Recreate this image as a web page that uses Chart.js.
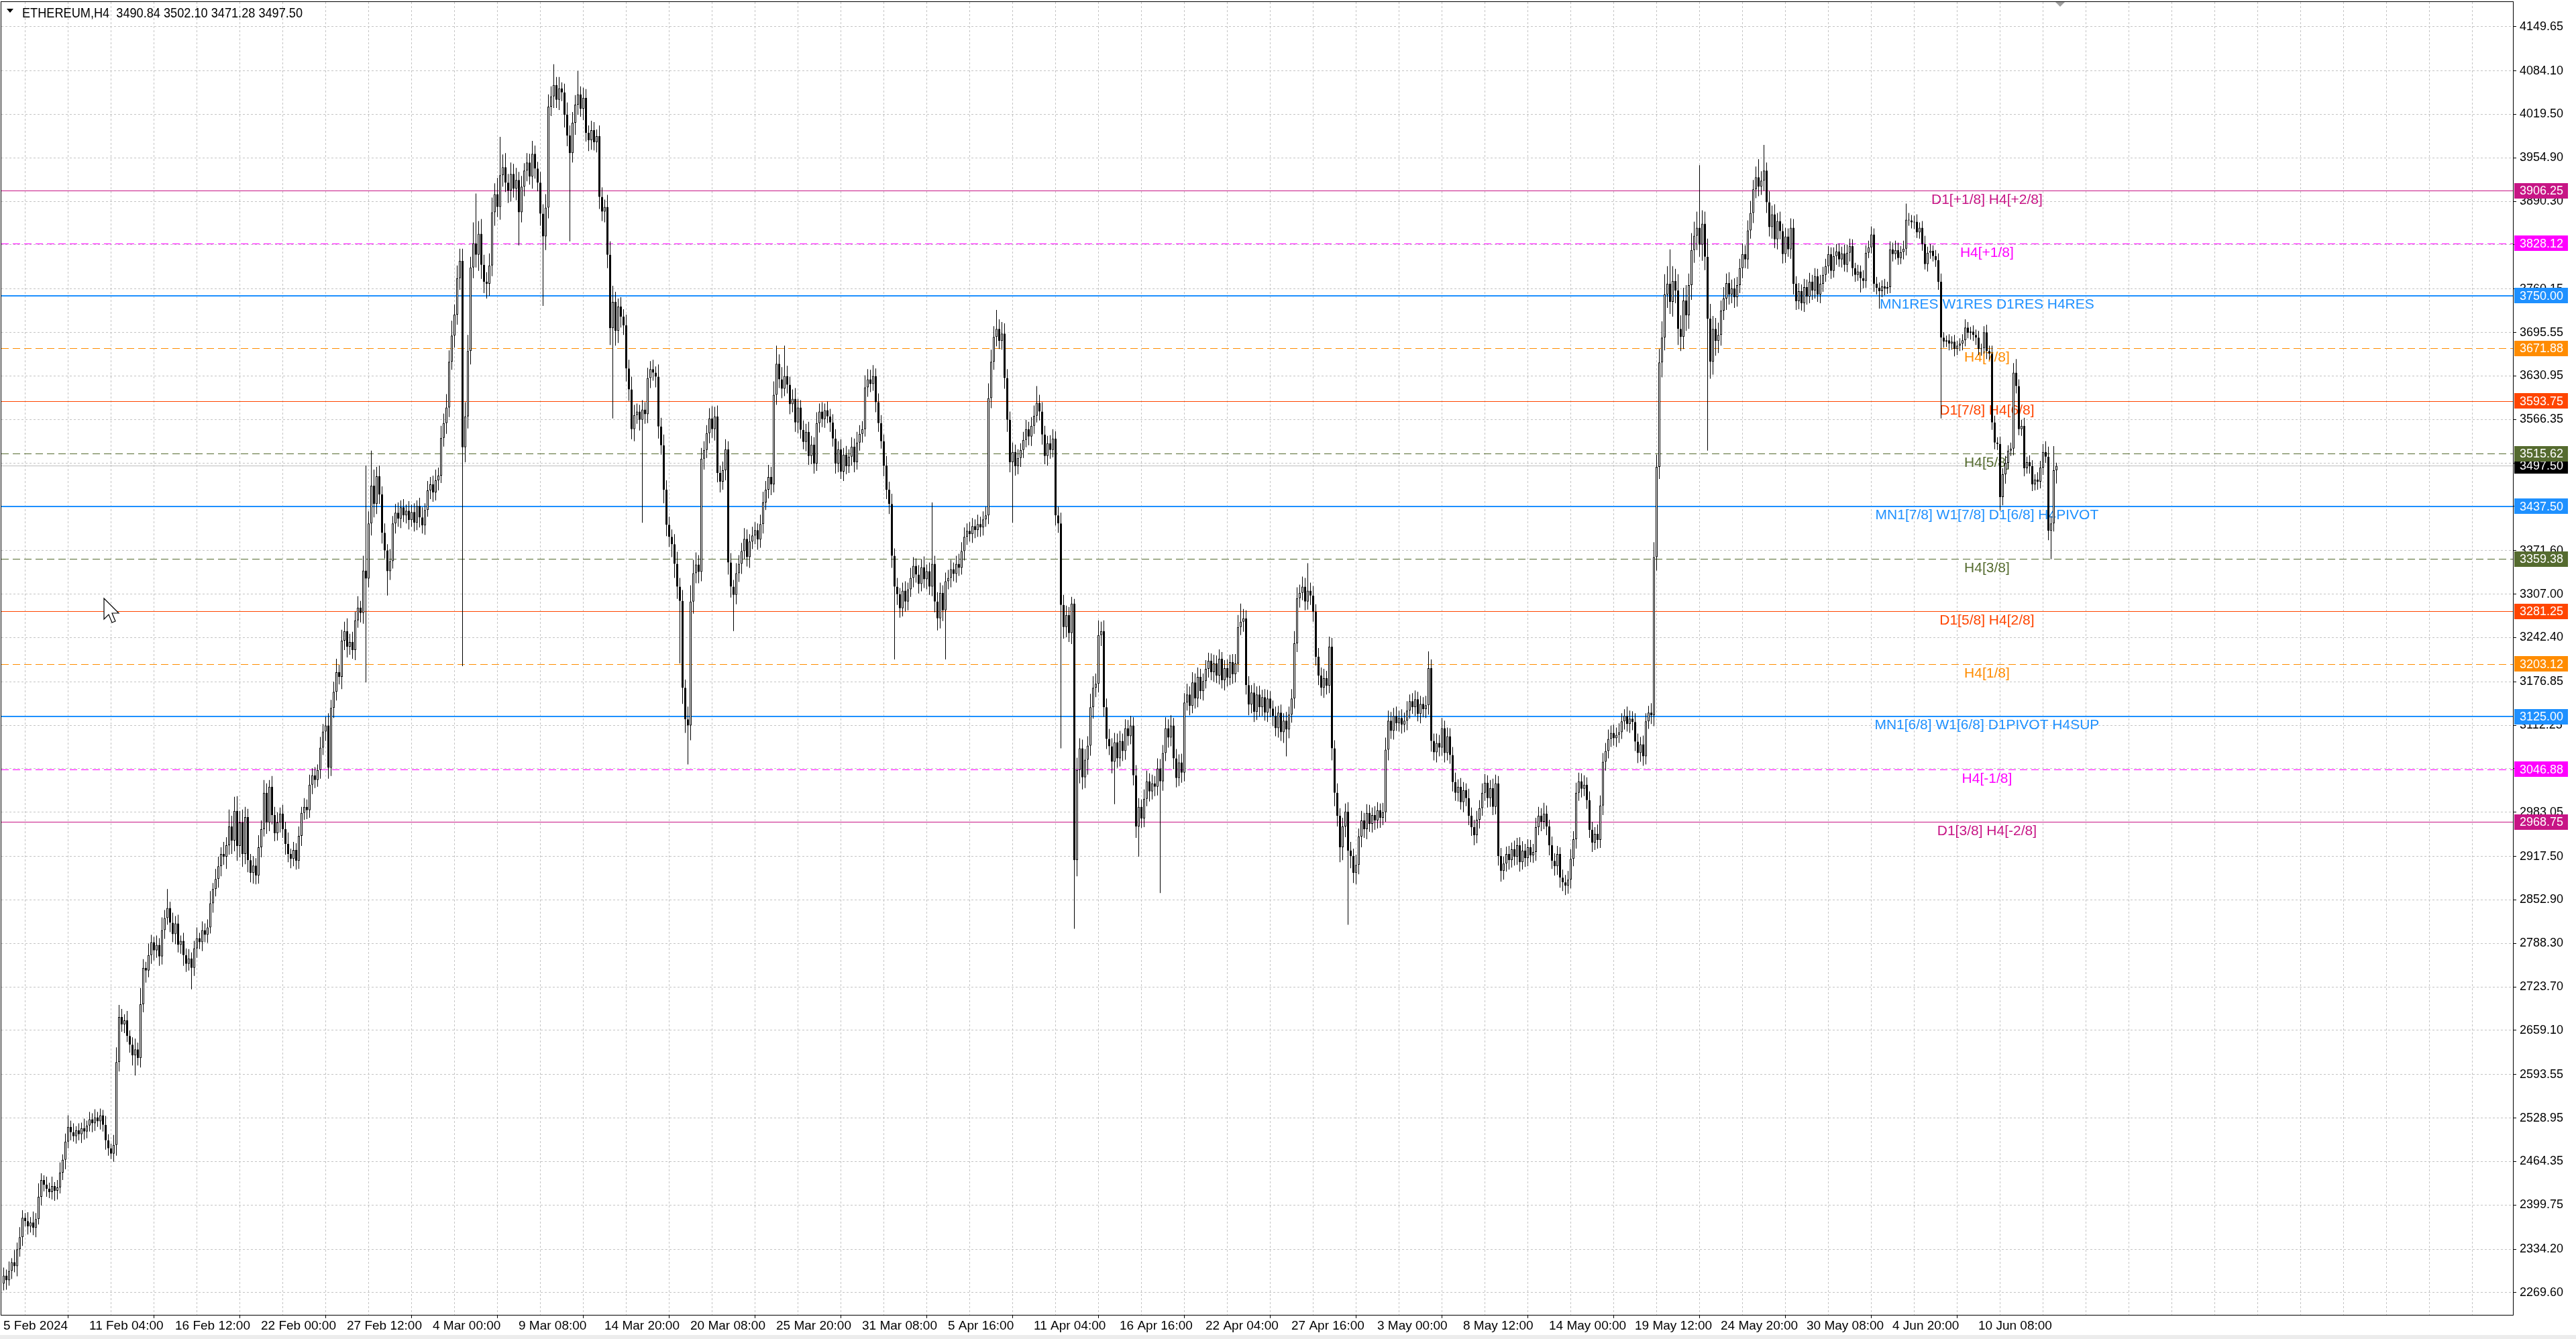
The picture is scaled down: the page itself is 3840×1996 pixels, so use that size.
<!DOCTYPE html>
<html>
<head>
<meta charset="utf-8">
<title>ETHEREUM,H4</title>
<script src="https://cdn.jsdelivr.net/npm/chart.js@4.4.1/dist/chart.umd.min.js"></script>
<style>
    html, body { margin: 0; padding: 0; background: #ffffff; overflow: hidden; }
    #wrap { width: 3840px; height: 1996px; }
</style>
</head>
<body>
<div id="wrap"><canvas id="chart" width="3840" height="1996"></canvas></div>
<script>
// Données du graphique (bougies H4)
const firstOpen = 2283;

// Clôtures, bougies 0-149
const closeFeb = [
    2295, 2288, 2302, 2315, 2309, 2334, 2352, 2381, 2376, 2368,
    2374, 2366, 2379, 2412, 2437, 2430, 2424, 2419, 2428, 2421,
    2426, 2448, 2467, 2494, 2516, 2508, 2502, 2511, 2505, 2514,
    2509, 2518, 2527, 2521, 2530, 2524, 2533, 2519, 2496, 2484,
    2476, 2489, 2612, 2679, 2668, 2674, 2651, 2638, 2622, 2631,
    2618, 2698, 2752, 2748, 2771, 2790, 2778, 2786, 2769, 2808,
    2826, 2841, 2819, 2802, 2818, 2786, 2792, 2771, 2758, 2766,
    2752, 2781, 2796, 2790, 2808, 2801, 2812, 2848, 2869, 2884,
    2903, 2921, 2917, 2934, 2962, 2941, 2985, 2933, 2968, 2921,
    2976, 2912, 2893, 2904, 2889, 2931, 2958, 3012, 2968, 3021,
    2979, 2952, 2968, 2981, 2958, 2936, 2921, 2914, 2927, 2911,
    2948, 2982, 2991, 2986, 3024, 3038, 3031, 3046, 3079, 3103,
    3112, 3049, 3138, 3162, 3191, 3184, 3238, 3252, 3229, 3236,
    3224, 3268, 3287, 3279, 3342, 3330, 3412, 3468, 3441, 3482,
    3455, 3398, 3372, 3341, 3356, 3412, 3428, 3419, 3436, 3424
];
// Clôtures, bougies 150-329
const closeMar = [
    3431, 3417, 3429, 3413, 3438, 3421, 3409, 3432, 3461, 3470,
    3458, 3476, 3483, 3539, 3561, 3584, 3652, 3691, 3722, 3776,
    3802, 3525, 3571, 3668, 3792, 3828, 3811, 3842, 3796, 3771,
    3768, 3795, 3874, 3901, 3882, 3929, 3941, 3918, 3906, 3931,
    3909, 3922, 3874, 3912, 3936, 3948, 3927, 3961, 3939, 3918,
    3872, 3838, 3881, 4031, 4046, 4063, 4041, 4058, 4052, 4019,
    3988, 3962, 4007, 4034, 4049, 4028, 4044, 3992, 3981, 3996,
    3978, 3987, 3897, 3875, 3882, 3811, 3702, 3741, 3698, 3734,
    3719, 3706, 3642, 3611, 3552, 3573, 3578, 3566, 3581, 3574,
    3628, 3641, 3636, 3630, 3556, 3528, 3462, 3410, 3392, 3381,
    3352, 3318, 3297, 3168, 3121, 3112, 3296, 3338, 3351, 3340,
    3508, 3521, 3546, 3568, 3552, 3571, 3487, 3474, 3491, 3522,
    3354, 3318, 3306, 3338, 3352, 3371, 3389, 3362, 3385, 3394,
    3402, 3388, 3411, 3443, 3462, 3481, 3470, 3603, 3649, 3626,
    3612, 3631, 3618, 3589, 3597, 3562, 3584, 3551, 3533, 3548,
    3512, 3529, 3501, 3561, 3578, 3567, 3580, 3571, 3562, 3538,
    3501, 3522, 3489, 3514, 3497, 3511, 3526, 3503, 3532, 3545,
    3552, 3614, 3626, 3619, 3631, 3592, 3561, 3534, 3498, 3462
];
// Clôtures, bougies 330-509
const closeApr = [
    3441, 3364, 3318, 3307, 3286, 3312, 3296, 3314, 3331, 3349,
    3336, 3322, 3347, 3329, 3341, 3318, 3352, 3296, 3271, 3309,
    3283, 3326, 3331, 3344, 3337, 3352, 3346, 3371, 3392, 3401,
    3396, 3408, 3402, 3411, 3406, 3418, 3424, 3598, 3652, 3689,
    3701, 3683, 3694, 3628, 3566, 3503, 3518, 3497, 3509, 3521,
    3536, 3552, 3541, 3557, 3572, 3591, 3578, 3544, 3512, 3531,
    3521, 3538, 3424, 3412, 3291, 3258, 3276, 3249, 3293, 2912,
    3046, 3078, 3035, 3061, 3082, 3139, 3168, 3174, 3246, 3252,
    3139, 3092, 3081, 3058, 3087, 3063, 3089, 3074, 3108, 3096,
    3112, 3038, 2962, 2991, 2974, 3003, 3029, 3014, 3026, 3021,
    3048, 3029, 3071, 3108, 3094, 3112, 3063, 3034, 3057, 3042,
    3146, 3158, 3141, 3176, 3152, 3184, 3163, 3178, 3196, 3208,
    3191, 3204, 3186, 3211, 3179, 3197, 3183, 3206, 3188, 3204,
    3258, 3266, 3271, 3172, 3143, 3161, 3132, 3158, 3139, 3154,
    3131, 3152, 3137, 3126, 3108, 3131, 3102, 3119, 3106, 3128,
    3152, 3234, 3301, 3309, 3318, 3296, 3312, 3305, 3281, 3214,
    3186, 3168, 3182, 3171, 3229, 3078, 3012, 2978, 2931, 2962,
    2984, 2926, 2918, 2893, 2905, 2947, 2971, 2958, 2982, 2966
];
// Clôtures, bougies 510-699
const closeMay = [
    2979, 2971, 2986, 2975, 2983, 3076, 3119, 3104, 3126, 3115,
    3123, 3113, 3119, 3134, 3148, 3139, 3151, 3129, 3144, 3136,
    3142, 3197, 3089, 3072, 3086, 3079, 3108, 3071, 3096, 3068,
    3028, 3012, 3021, 2998, 3016, 3004, 2978, 2961, 2949, 2972,
    2989, 3012, 3027, 3004, 3019, 2991, 3026, 2918, 2896, 2907,
    2921, 2912, 2928, 2917, 2934, 2909, 2926, 2915, 2931, 2919,
    2924, 2961, 2978, 2969, 2981, 2962, 2934, 2911, 2903, 2921,
    2886, 2879, 2874, 2883, 2914, 2943, 3012, 3029, 3018, 3024,
    3001, 2957, 2938, 2951, 2942, 2993, 3058, 3074, 3092, 3101,
    3093, 3098, 3102, 3118, 3126, 3114, 3122, 3117, 3088, 3071,
    3084, 3066, 3118, 3131, 3127, 3362, 3496, 3651, 3688, 3752,
    3768, 3741, 3772, 3758, 3701, 3689, 3743, 3721, 3766, 3818,
    3839, 3851, 3826, 3857, 3808, 3716, 3652, 3701, 3683, 3692,
    3728, 3746, 3769, 3752, 3761, 3748, 3766, 3791, 3812, 3804,
    3847, 3873, 3908, 3926, 3912, 3921, 3936, 3889, 3852, 3871,
    3834, 3861, 3846, 3812, 3838, 3819, 3851, 3768, 3742, 3757,
    3739, 3763, 3749, 3771, 3758, 3779, 3752, 3768, 3781, 3794,
    3812, 3787, 3809, 3816, 3804, 3813, 3796, 3814, 3824, 3791,
    3781, 3786, 3776, 3772, 3814, 3822, 3841, 3768, 3762, 3757
];
// Clôtures, bougies 700-765
const closeJun = [
    3764, 3761, 3763, 3819, 3812, 3818, 3806, 3815, 3820, 3863,
    3862, 3859, 3860, 3844, 3851, 3827, 3797, 3814, 3817, 3809,
    3803, 3771, 3688, 3682, 3684, 3679, 3682, 3671, 3676, 3679,
    3684, 3703, 3695, 3697, 3692, 3688, 3671, 3672, 3696, 3668,
    3664, 3562, 3532, 3530, 3451, 3485, 3502, 3520, 3523, 3636,
    3616, 3552, 3557, 3494, 3503, 3497, 3470, 3477, 3474, 3495,
    3518, 3511, 3401, 3412, 3490.84, 3497.50
];

// Mèches hautes (au-dessus du corps)
const wickUp = [
    12, 9, 14, 6, 18, 10, 15, 11, 7, 13,
    8, 16, 9, 20, 10, 7, 12, 9, 14, 6,
    11, 15, 8, 12, 17, 9, 13, 6, 10, 8,
    14, 7, 11, 9, 12, 8, 10, 8, 13, 9,
    7, 15, 22, 18, 12, 9, 14, 8, 11, 16,
    10, 24, 13, 9, 17, 11, 8, 14, 10, 19,
    12, 28, 9, 15, 11, 13, 8, 12, 10, 14,
    9, 11, 16, 8, 13, 10, 12, 18, 9, 15,
    14, 10, 18, 12, 25, 16, 21, 22, 17, 19,
    15, 12, 9, 14, 11, 18, 13, 19, 14, 10,
    16, 12, 15, 9, 13, 11, 17, 8, 12, 10,
    14, 9, 13, 11, 15, 10, 12, 8, 16, 11,
    13, 18, 12, 15, 20, 11, 16, 14, 19, 12,
    15, 13, 17, 10, 22, 156, 18, 52, 24, 14,
    16, 12, 14, 9, 18, 11, 13, 15, 10, 12,
    9, 14, 11, 13, 8, 12, 15, 10, 14, 11,
    13, 16, 12, 18, 14, 20, 17, 22, 15, 19,
    18, 18, 21, 24, 16, 31, 74, 19, 22, 15,
    14, 18, 22, 16, 24, 57, 19, 21, 13, 17,
    15, 18, 12, 16, 11, 14, 13, 19, 12, 10,
    16, 14, 20, 18, 15, 31, 12, 17, 9, 13,
    18, 15, 16, 14, 35, 12, 15, 13, 11, 14,
    12, 10, 16, 14, 11, 18, 20, 24, 15, 12,
    14, 11, 16, 13, 19, 15, 12, 10, 14, 11,
    15, 12, 14, 9, 18, 13, 16, 14, 12, 11,
    15, 18, 13, 16, 12, 19, 24, 20, 18, 14,
    16, 13, 12, 15, 18, 14, 16, 11, 13, 15,
    12, 14, 10, 15, 13, 12, 16, 14, 11, 13,
    12, 10, 14, 16, 13, 18, 15, 20, 27, 14,
    18, 45, 15, 12, 14, 16, 13, 11, 14, 12,
    15, 13, 11, 16, 12, 14, 10, 13, 11, 12,
    14, 12, 15, 10, 13, 11, 14, 12, 16, 13,
    12, 18, 15, 14, 16, 11, 13, 12, 10, 14,
    12, 15, 11, 13, 9, 12, 14, 10, 15, 13,
    11, 14, 12, 16, 10, 13, 91, 12, 14, 15,
    11, 13, 12, 14, 10, 12, 15, 13, 14, 11,
    13, 12, 10, 14, 11, 12, 13, 22, 18, 16,
    28, 14, 17, 15, 13, 12, 14, 11, 13, 10,
    12, 14, 11, 13, 15, 25, 12, 14, 13, 11,
    12, 14, 11, 13, 16, 15, 14, 12, 10, 7,
    18, 15, 13, 16, 14, 20, 17, 15, 22, 14,
    16, 13, 15, 12, 14, 13, 15, 11, 13, 12,
    14, 12, 15, 13, 11, 14, 16, 12, 13, 11,
    15, 14, 12, 16, 13, 15, 11, 14, 12, 13,
    14, 16, 12, 15, 13, 14, 12, 11, 13, 12,
    11, 13, 12, 14, 10, 12, 13, 11, 12, 14,
    18, 27, 14, 12, 13, 11, 14, 12, 13, 11,
    12, 13, 11, 12, 14, 10, 12, 11, 13, 12,
    14, 18, 16, 12, 15, 13, 41, 12, 14, 11,
    13, 12, 14, 11, 15, 13, 12, 14, 11, 13,
    12, 14, 13, 11, 15, 12, 14, 11, 13, 12,
    11, 13, 12, 10, 14, 18, 15, 13, 12, 14,
    11, 13, 12, 14, 10, 12, 13, 11, 12, 10,
    14, 25, 13, 11, 14, 12, 15, 11, 13, 12,
    12, 14, 11, 13, 12, 10, 14, 12, 11, 13,
    12, 14, 13, 11, 12, 14, 13, 11, 12, 10,
    11, 12, 10, 13, 11, 12, 14, 10, 12, 11,
    12, 14, 13, 11, 16, 12, 10, 13, 11, 12,
    10, 12, 11, 13, 14, 12, 15, 13, 12, 14,
    11, 13, 12, 10, 14, 15, 13, 12, 14, 11,
    12, 11, 13, 12, 10, 14, 12, 11, 13, 12,
    11, 13, 12, 10, 14, 22, 18, 20, 24, 30,
    26, 51, 22, 18, 24, 20, 19, 23, 17, 25,
    21, 24, 93, 20, 18, 27, 22, 19, 16, 18,
    15, 17, 14, 16, 13, 15, 12, 14, 16, 13,
    15, 18, 14, 16, 27, 14, 38, 12, 16, 13,
    15, 12, 14, 11, 13, 12, 14, 13, 11, 12,
    10, 12, 11, 13, 10, 12, 11, 13, 12, 11,
    12, 10, 13, 11, 12, 10, 13, 12, 11, 10,
    8, 10, 9, 12, 11, 10, 12, 9, 10, 8,
    9, 11, 8, 12, 10, 14, 11, 9, 12, 24,
    10, 8, 9, 11, 8, 10, 12, 9, 10, 8,
    9, 10, 12, 8, 7, 9, 8, 10, 7, 8,
    9, 12, 8, 7, 9, 8, 10, 7, 9, 11,
    8, 12, 10, 8, 11, 9, 10, 8, 9, 14,
    20, 10, 9, 12, 8, 10, 9, 8, 11, 10,
    12, 16, 15, 11, 36, 4.6
];

// Mèches basses (sous le corps)
const wickDn = [
    10, 14, 8, 12, 9, 15, 11, 13, 8, 12,
    9, 11, 14, 8, 13, 10, 12, 9, 11, 15,
    13, 9, 11, 14, 10, 12, 8, 11, 9, 13,
    12, 10, 9, 13, 11, 8, 12, 10, 14, 11,
    8, 12, 16, 14, 11, 13, 9, 12, 15, 30,
    11, 14, 12, 18, 10, 13, 15, 11, 14, 12,
    13, 10, 14, 12, 15, 11, 13, 16, 12, 10,
    32, 12, 14, 10, 13, 11, 12, 9, 14, 11,
    13, 15, 12, 18, 14, 20, 16, 22, 17, 19,
    15, 18, 14, 16, 13, 12, 15, 11, 17, 13,
    14, 12, 11, 15, 13, 16, 12, 14, 11, 13,
    12, 15, 10, 13, 11, 14, 12, 10, 13, 11,
    14, 16, 12, 15, 13, 11, 18, 14, 16, 12,
    13, 15, 11, 14, 16, 154, 13, 18, 20, 15,
    14, 16, 12, 36, 13, 11, 15, 12, 14, 10,
    12, 14, 10, 13, 11, 15, 12, 14, 10, 13,
    14, 12, 15, 11, 13, 16, 14, 12, 18, 15,
    17, 325, 22, 18, 20, 16, 19, 24, 21, 17,
    22, 18, 16, 20, 15, 19, 17, 14, 18, 16,
    13, 17, 49, 15, 14, 16, 12, 18, 15, 13,
    18, 103, 20, 16, 14, 17, 12, 15, 13, 19,
    16, 131, 14, 18, 15, 12, 17, 13, 16, 14,
    12, 15, 18, 14, 16, 20, 25, 134, 22, 18,
    16, 14, 19, 17, 15, 18, 13, 16, 153, 14,
    13, 15, 12, 16, 18, 14, 20, 17, 15, 19,
    21, 18, 93, 24, 20, 58, 22, 18, 15, 17,
    14, 16, 12, 15, 13, 17, 14, 16, 12, 15,
    18, 16, 54, 14, 13, 15, 12, 14, 16, 11,
    13, 15, 12, 14, 11, 13, 16, 12, 15, 13,
    14, 11, 13, 15, 12, 14, 16, 13, 11, 14,
    13, 12, 15, 11, 14, 12, 13, 10, 14, 12,
    15, 13, 11, 14, 12, 10, 13, 15, 11, 12,
    13, 11, 14, 12, 10, 15, 13, 11, 16, 14,
    15, 18, 108, 16, 14, 12, 15, 13, 11, 14,
    12, 14, 11, 13, 15, 12, 14, 16, 18, 15,
    16, 73, 12, 14, 11, 13, 12, 10, 14, 12,
    11, 13, 12, 10, 14, 12, 11, 13, 15, 12,
    14, 12, 13, 16, 18, 15, 90, 14, 12, 13,
    12, 11, 13, 14, 12, 10, 13, 15, 12, 14,
    13, 11, 15, 14, 213, 17, 15, 13, 16, 102,
    24, 20, 18, 16, 22, 15, 17, 14, 13, 16,
    14, 15, 13, 17, 63, 14, 12, 15, 13, 14,
    12, 15, 17, 45, 14, 13, 11, 15, 12, 14,
    13, 166, 14, 12, 15, 13, 16, 14, 12, 15,
    13, 12, 14, 11, 15, 13, 12, 14, 11, 13,
    12, 14, 11, 13, 12, 15, 13, 11, 14, 12,
    13, 12, 15, 14, 16, 13, 15, 12, 14, 13,
    12, 14, 13, 15, 12, 14, 13, 16, 40, 13,
    12, 15, 13, 14, 11, 13, 12, 14, 15, 13,
    14, 12, 15, 13, 11, 18, 20, 16, 22, 19,
    16, 110, 18, 15, 17, 14, 16, 13, 15, 12,
    13, 14, 12, 15, 11, 14, 16, 12, 13, 11,
    12, 13, 11, 14, 12, 10, 13, 11, 14, 12,
    13, 14, 16, 12, 15, 13, 12, 14, 11, 13,
    14, 12, 13, 11, 15, 12, 14, 13, 15, 12,
    13, 11, 12, 14, 13, 12, 11, 14, 16, 13,
    12, 14, 11, 13, 12, 14, 11, 13, 12, 10,
    11, 13, 12, 14, 11, 13, 15, 12, 14, 13,
    15, 13, 14, 12, 13, 11, 14, 12, 13, 11,
    13, 12, 14, 11, 13, 12, 14, 13, 11, 12,
    11, 13, 12, 10, 12, 11, 13, 12, 14, 15,
    13, 14, 12, 11, 13, 16, 20, 18, 22, 19,
    20, 18, 22, 19, 24, 21, 18, 23, 20, 22,
    19, 21, 18, 24, 20, 196, 25, 19, 22, 18,
    16, 14, 17, 15, 13, 16, 14, 12, 15, 13,
    14, 12, 15, 13, 14, 12, 15, 16, 14, 17,
    13, 15, 12, 14, 13, 11, 14, 16, 13, 12,
    11, 13, 12, 10, 14, 12, 11, 13, 12, 10,
    11, 12, 10, 13, 11, 12, 10, 11, 13, 12,
    10, 9, 21, 11, 10, 8, 9, 12, 10, 26,
    9, 10, 8, 9, 11, 8, 10, 9, 11, 10,
    8, 9, 10, 8, 9, 10, 8, 11, 9, 8,
    10, 12, 120, 9, 8, 10, 9, 11, 9, 8,
    10, 9, 8, 10, 9, 11, 9, 10, 8, 12,
    9, 11, 10, 9, 20, 12, 14, 9, 8, 10,
    11, 9, 10, 12, 8, 11, 10, 9, 12, 10,
    11, 9, 14, 42, 12, 19.56
];

// Étiquettes de l'axe du temps (une toutes les 32 bougies)
const xLabels = [
    "5 Feb 2024", "11 Feb 04:00", "16 Feb 12:00", "22 Feb 00:00", "27 Feb 12:00",
    "4 Mar 00:00", "9 Mar 08:00", "14 Mar 20:00", "20 Mar 08:00", "25 Mar 20:00",
    "31 Mar 08:00", "5 Apr 16:00", "11 Apr 04:00", "16 Apr 16:00", "22 Apr 04:00",
    "27 Apr 16:00", "3 May 00:00", "8 May 12:00", "14 May 00:00", "19 May 12:00",
    "24 May 20:00", "30 May 08:00", "4 Jun 20:00", "10 Jun 08:00"
];

// Graduations de l'axe des prix
const yTicks = [
    4149.65, 4084.10, 4019.50, 3954.90, 3890.30, 3825.70, 3760.15, 3695.55,
    3630.95, 3566.35, 3501.75, 3437.15, 3371.60, 3307.00, 3242.40, 3176.85,
    3112.25, 3047.65, 2983.05, 2917.50, 2852.90, 2788.30, 2723.70, 2659.10,
    2593.55, 2528.95, 2464.35, 2399.75, 2334.20, 2269.60
];

// Niveaux horizontaux (Murrey / pivots)
const levelPrices = [3906.25, 3828.12, 3750.00, 3671.88, 3593.75, 3515.62, 3437.50,
                     3359.38, 3281.25, 3203.12, 3125.00, 3046.88, 2968.75];
const levelNames = [
    "D1[+1/8] H4[+2/8]", "H4[+1/8]", "MN1RES W1RES D1RES H4RES", "H4[7/8]",
    "D1[7/8] H4[6/8]", "H4[5/8]", "MN1[7/8] W1[7/8] D1[6/8] H4PIVOT", "H4[3/8]",
    "D1[5/8] H4[2/8]", "H4[1/8]", "MN1[6/8] W1[6/8] D1PIVOT H4SUP", "H4[-1/8]",
    "D1[3/8] H4[-2/8]"
];
const lastPrice = 3497.50;
const headerText = "ETHEREUM,H4  3490.84 3502.10 3471.28 3497.50";

// Styles des niveaux
const levelColors = ["#C71585", "#FF00FF", "#1E90FF", "#FF8C00", "#FF4500", "#556B2F", "#1E90FF",
                     "#556B2F", "#FF4500", "#FF8C00", "#1E90FF", "#FF00FF", "#C71585"];
const levelDashed = [false, true, false, true, false, true, false, true, false, true, false, true, false];
const levelWidths = [1, 1, 2, 1, 1, 1, 2, 1, 1, 1, 2, 1, 1];

const AXIS_FONT = '"Liberation Sans", Arial, sans-serif';

// Construction des bougies
const closes = closeFeb.concat(closeMar, closeApr, closeMay, closeJun);
const candles = closes.map((c, i) => {
    const o = i === 0 ? firstOpen : closes[i - 1];
    return { o: o, c: c, h: Math.max(o, c) + wickUp[i], l: Math.min(o, c) - wickDn[i] };
});
const lengthsOk = closes.length === wickUp.length && closes.length === wickDn.length;

const wickData = candles.map((k, i) => ({ x: i, y: [k.l, k.h] }));
const bodyData = candles.map((k, i) => {
    let a = k.o, b = k.c;
    if (Math.abs(a - b) < 1) { a = k.c - 0.6; b = k.c + 0.6; }
    return { x: i, y: [a, b] };
});
const bodyFill = candles.map(k => (k.c >= k.o ? "#ffffff" : "#000000"));

// Texte avec resserrement horizontal optionnel
function squeezedText(ctx, text, x, y, size, sx) {
    ctx.save();
    ctx.font = size + "px " + AXIS_FONT;
    ctx.translate(x, y);
    ctx.scale(sx, 1);
    ctx.fillText(text, 0, 0);
    ctx.restore();
}

// Plugin : niveaux, étiquettes de prix, cadre et en-tête
const levelsPlugin = {
    id: "levels",
    beforeDatasetsDraw(chart) {
        const { ctx, chartArea: a, scales: { x, y } } = chart;
        ctx.save();
        // ligne du prix courant
        const by = Math.round(y.getPixelForValue(lastPrice)) + 0.5;
        ctx.strokeStyle = "#c0c0c0";
        ctx.lineWidth = 1;
        ctx.beginPath();
        ctx.moveTo(a.left, by);
        ctx.lineTo(a.right, by);
        ctx.stroke();

        const labelX = x.getPixelForValue(739.1);
        levelPrices.forEach((p, i) => {
            const w = levelWidths[i];
            const py = Math.round(y.getPixelForValue(p)) + (w % 2 ? 0.5 : 0);
            ctx.strokeStyle = levelColors[i];
            ctx.lineWidth = w;
            ctx.setLineDash(levelDashed[i] ? [11, 6] : []);
            ctx.beginPath();
            ctx.moveTo(a.left, py);
            ctx.lineTo(a.right, py);
            ctx.stroke();
            ctx.setLineDash([]);
            ctx.fillStyle = levelColors[i];
            ctx.font = "21px " + AXIS_FONT;
            ctx.textAlign = "center";
            ctx.textBaseline = "alphabetic";
            ctx.fillText(levelNames[i], labelX, py + 19);
        });
        ctx.restore();
    },
    afterDraw(chart) {
        const { ctx, chartArea: a, scales: { x, y } } = chart;
        ctx.save();

        // cadre du graphique
        ctx.strokeStyle = "#000";
        ctx.lineWidth = 1;
        ctx.strokeRect(a.left - 0.5, a.top - 0.5, a.right - a.left + 1, a.bottom - a.top + 1);

        // étiquettes de l'axe du temps
        ctx.fillStyle = "#000";
        ctx.textAlign = "left";
        ctx.textBaseline = "alphabetic";
        xLabels.forEach((lab, k) => {
            squeezedText(ctx, lab, Math.round(x.getPixelForValue(k * 32)) - 1, a.bottom + 22, 19, 1);
        });

        // étiquettes colorées sur l'axe des prix
        function tag(price, color) {
            const ty = y.getPixelForValue(price);
            ctx.fillStyle = color;
            ctx.fillRect(a.right + 2, Math.round(ty - 11.5), 80, 23);
            ctx.fillStyle = "#ffffff";
            ctx.font = "18px " + AXIS_FONT;
            ctx.textAlign = "left";
            ctx.textBaseline = "middle";
            ctx.fillText(price.toFixed(2), a.right + 10, ty + 1);
        }
        tag(lastPrice, "#000000");
        levelPrices.forEach((p, i) => tag(p, levelColors[i]));

        // marqueur de décalage en haut
        ctx.fillStyle = "#a0a0a0";
        ctx.beginPath();
        ctx.moveTo(3064, a.top);
        ctx.lineTo(3078, a.top);
        ctx.lineTo(3071, a.top + 7);
        ctx.closePath();
        ctx.fill();

        // en-tête du symbole
        ctx.fillStyle = "#000";
        ctx.beginPath();
        ctx.moveTo(10, 13);
        ctx.lineTo(20, 13);
        ctx.lineTo(15, 19);
        ctx.closePath();
        ctx.fill();
        ctx.textAlign = "left";
        ctx.textBaseline = "alphabetic";
        squeezedText(ctx, headerText, 33, 26, 21, 0.865);

        // curseur de la souris
        const cx = 155, cy = 892;
        const pts = [[0, 0], [0, 31], [7, 24], [12, 36], [17, 34], [12, 22], [22, 22]];
        ctx.beginPath();
        pts.forEach((pt, i) => (i ? ctx.lineTo(cx + pt[0], cy + pt[1]) : ctx.moveTo(cx + pt[0], cy + pt[1])));
        ctx.closePath();
        ctx.fillStyle = "#ffffff";
        ctx.fill();
        ctx.strokeStyle = "#000";
        ctx.lineWidth = 1.2;
        ctx.stroke();

        // bande grise du bas
        ctx.fillStyle = "#ececec";
        ctx.fillRect(0, 1990, 3840, 6);

        if (!lengthsOk) {
            ctx.fillStyle = "red";
            ctx.font = "40px sans-serif";
            ctx.fillText("LENGTH MISMATCH " + closes.length + " " + wickUp.length + " " + wickDn.length, 600, 200);
        }
        ctx.restore();
    }
};

const canvas = document.getElementById("chart");
const chartInstance = new Chart(canvas.getContext("2d"), {
    type: "bar",
    data: {
        datasets: [
            {
                label: "wick",
                data: wickData,
                backgroundColor: "#000000",
                borderWidth: 0,
                barThickness: 1,
                inflateAmount: 0,
                grouped: false,
                order: 2
            },
            {
                label: "body",
                data: bodyData,
                backgroundColor: bodyFill,
                borderColor: "#000000",
                borderWidth: 1,
                borderSkipped: false,
                barThickness: 3,
                inflateAmount: 0,
                grouped: false,
                order: 1
            }
        ]
    },
    options: {
        responsive: false,
        animation: false,
        devicePixelRatio: 1,
        layout: { padding: { left: 2, top: 3, right: 0, bottom: 0 } },
        plugins: { legend: { display: false }, tooltip: { enabled: false } },
        scales: {
            x: {
                type: "linear",
                min: -0.875,
                max: 935.125,
                offset: false,
                afterBuildTicks: axis => {
                    const t = [];
                    for (let v = 0; v <= 935; v += 16) t.push({ value: v });
                    axis.ticks = t;
                },
                afterFit: axis => {
                    axis.height = 36;
                    axis.paddingLeft = 0;
                    axis.paddingRight = 0;
                },
                grid: {
                    color: "#c4c4c4",
                    lineWidth: 1,
                    drawTicks: true,
                    tickLength: 5,
                    tickColor: c => (c.tick && c.tick.value % 32 === 0 && c.tick.value / 32 < xLabels.length ? "#000" : "rgba(0,0,0,0)")
                },
                border: { display: false, dash: [3, 3] },
                ticks: {
                    autoSkip: false,
                    maxRotation: 0,
                    callback: () => ""
                }
            },
            y: {
                type: "linear",
                position: "right",
                min: 2236.7,
                max: 4186.3,
                afterBuildTicks: axis => { axis.ticks = yTicks.map(v => ({ value: v })); },
                afterFit: axis => {
                    axis.width = 94;
                    axis.paddingTop = 0;
                    axis.paddingBottom = 0;
                },
                grid: {
                    color: "#c4c4c4",
                    lineWidth: 1,
                    drawTicks: true,
                    tickLength: 5,
                    tickColor: "#000"
                },
                border: { display: false, dash: [3, 3] },
                ticks: {
                    padding: 5,
                    color: "#000",
                    font: { family: AXIS_FONT, size: 18 },
                    callback: v => v.toFixed(2)
                }
            }
        }
    },
    plugins: [levelsPlugin]
});
</script>
</body>
</html>
